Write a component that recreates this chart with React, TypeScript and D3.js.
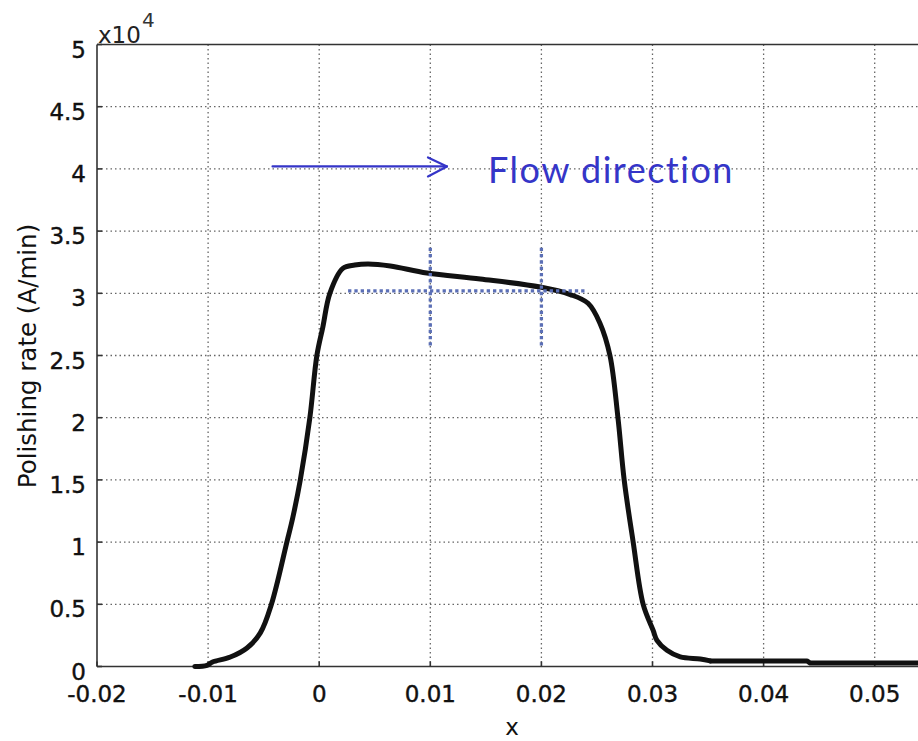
import React from "react";
import * as d3 from "d3";

// Curve data (x in m, y in 1e4 A/min)
const curveX = [
  -0.0112, -0.0101, -0.0096, -0.008, -0.0065, -0.0053, -0.0043, -0.00291, -0.00237, -0.0017,
  -0.00084, -0.00021, 0.00033, 0.00096, 0.00213, 0.0032, 0.0044, 0.0064, 0.0097, 0.0145,
  0.0199, 0.0226, 0.0242, 0.02527, 0.02617, 0.02689, 0.02745, 0.02826, 0.02916, 0.03006,
  0.0304, 0.0313, 0.0325, 0.0343, 0.0352, 0.0439, 0.0442, 0.0545,
];
const curveY = [
  0, 0.01, 0.036, 0.076, 0.149, 0.27, 0.5, 1.0, 1.2, 1.5,
  2.0, 2.5, 2.73, 3.0, 3.2, 3.227, 3.236, 3.22, 3.163, 3.115,
  3.05, 2.99, 2.92, 2.76, 2.5, 2.0, 1.5, 1.0, 0.5, 0.29,
  0.21, 0.13, 0.077, 0.06, 0.045, 0.045, 0.028, 0.028,
];
// index where the smooth part ends and the flat tail starts
const tailStart = 34;

const xTicks = [-0.02, -0.01, 0, 0.01, 0.02, 0.03, 0.04, 0.05];
const xTickLabels = ["-0.02", "-0.01", "0", "0.01", "0.02", "0.03", "0.04", "0.05"];
const yTicks = [0, 0.5, 1, 1.5, 2, 2.5, 3, 3.5, 4, 4.5, 5];
const yTickLabels = ["0", "0.5", "1", "1.5", "2", "2.5", "3", "3.5", "4", "4.5", "5"];

// Annotation values (data coordinates)
const refLineY = [3.02];
const refLineXSpan = [0.0026, 0.024];
const refVerticalX = [0.01, 0.02];
const refVerticalYSpan = [2.58, 3.39];
const arrowXSpan = [-0.0042, 0.0115];
const arrowY = [4.02];
const flowLabel = "Flow direction";
const flowLabelPos = [0.0152, 3.89];

const W = 918;
const H = 741;
const LEFT = 97;
const TOP = 44.5;
const BOTTOM = 666.5;

const xScale = d3.scaleLinear().domain([-0.02, 0.06]).range([LEFT, LEFT + 0.08 * 11110]);
const yScale = d3.scaleLinear().domain([0, 5]).range([BOTTOM, TOP]);

const FONT = "'DejaVu Sans', Verdana, sans-serif";

export default function App() {
  const pts: [number, number][] = curveX.map((x, i) => [x, curveY[i]]);
  const smooth = d3
    .line<[number, number]>()
    .x((d) => xScale(d[0]))
    .y((d) => yScale(d[1]))
    .curve(d3.curveCatmullRom.alpha(0.5));
  const straight = d3
    .line<[number, number]>()
    .x((d) => xScale(d[0]))
    .y((d) => yScale(d[1]));

  const ax0 = xScale(arrowXSpan[0]);
  const ax1 = xScale(arrowXSpan[1]);
  const ay = yScale(arrowY[0]);

  return (
    <svg
      width={W}
      height={H}
      style={{ position: "absolute", left: 0, top: 0, background: "#fff" }}
    >
      <rect x={0} y={0} width={W} height={H} fill="#fff" />
      {/* grid */}
      <g stroke="#666" strokeWidth={1.3} strokeDasharray="1.5 3">
        {xTicks.slice(1).map((t) => (
          <line key={"gx" + t} x1={xScale(t)} x2={xScale(t)} y1={TOP} y2={BOTTOM} />
        ))}
        {yTicks.slice(1, -1).map((t) => (
          <line key={"gy" + t} x1={LEFT} x2={W} y1={yScale(t)} y2={yScale(t)} />
        ))}
      </g>
      {/* axes */}
      <g stroke="#333" strokeWidth={1.6} fill="none">
        <line x1={LEFT} x2={LEFT} y1={TOP} y2={BOTTOM} />
        <line x1={LEFT} x2={W} y1={BOTTOM} y2={BOTTOM} />
        <line x1={LEFT} x2={W} y1={TOP} y2={TOP} />
        {yTicks.map((t) => (
          <line key={"ty" + t} x1={LEFT} x2={LEFT + 5} y1={yScale(t)} y2={yScale(t)} />
        ))}
        {xTicks.map((t) => (
          <line key={"tx" + t} x1={xScale(t)} x2={xScale(t)} y1={BOTTOM} y2={BOTTOM - 5} />
        ))}
      </g>
      {/* tick labels */}
      <g fontFamily={FONT} fontSize={23} fill="#111" stroke="#111" strokeWidth={0.4}>
        {yTicks.map((t, i) => (
          <text key={"ly" + t} x={86} y={yScale(t) + 13} textAnchor="end">
            {yTickLabels[i]}
          </text>
        ))}
        {xTicks.map((t, i) => (
          <text key={"lx" + t} x={xScale(t)} y={701.5} textAnchor="middle">
            {xTickLabels[i]}
          </text>
        ))}
      </g>
      {/* exponent */}
      <text x={98} y={43} fontFamily={FONT} fontSize={23} fill="#222">
        x10
      </text>
      <text x={142} y={27} fontFamily={FONT} fontSize={20} fill="#333">
        4
      </text>
      {/* axis titles */}
      <text x={512} y={735} fontFamily={FONT} fontSize={23} textAnchor="middle" fill="#111">
        x
      </text>
      <text
        transform={`translate(36, 356) rotate(-90)`}
        fontFamily={FONT}
        fontSize={24.5}
        textAnchor="middle"
        fill="#111"
      >
        Polishing rate (A/min)
      </text>
      {/* curve */}
      <g fill="none" stroke="#111" strokeWidth={5} strokeLinejoin="round" strokeLinecap="round">
        <path d={smooth(pts.slice(0, tailStart + 1)) || ""} />
        <path d={straight(pts.slice(tailStart)) || ""} />
      </g>
      {/* blue reference dashed lines */}
      <g stroke="#5b6fb6" strokeWidth={3.3} strokeDasharray="3.3 3">
        <line
          x1={xScale(refLineXSpan[0])}
          x2={xScale(refLineXSpan[1])}
          y1={yScale(refLineY[0])}
          y2={yScale(refLineY[0])}
        />
        {refVerticalX.map((v) => (
          <line
            key={"rv" + v}
            x1={xScale(v)}
            x2={xScale(v)}
            y1={yScale(refVerticalYSpan[0])}
            y2={yScale(refVerticalYSpan[1])}
          />
        ))}
      </g>
      {/* flow direction arrow */}
      <g stroke="#3535c8" strokeWidth={2.2} fill="none" strokeLinecap="round" strokeLinejoin="round">
        <line x1={ax0} x2={ax1} y1={ay} y2={ay} />
        <polyline points={`${ax1 - 19},${ay - 9} ${ax1},${ay} ${ax1 - 19},${ay + 10}`} />
      </g>
      <text
        x={xScale(flowLabelPos[0])}
        y={yScale(flowLabelPos[1])}
        fontFamily="Lato, 'Open Sans', sans-serif"
        fontSize={36}
        letterSpacing={1.5}
        fill="#3535c8"
      >
        {flowLabel}
      </text>
    </svg>
  );
}
